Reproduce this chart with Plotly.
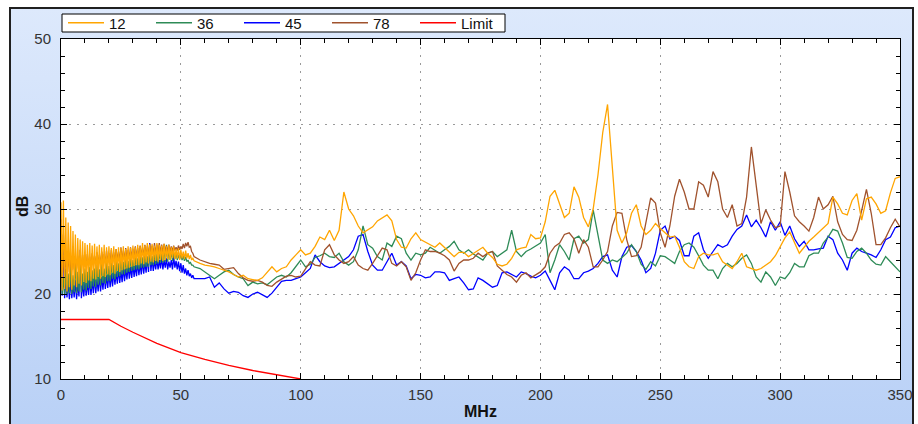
import base64
import plotly.graph_objects as go

# ---------------- data ----------------
freq_fine = [i * 0.5 for i in range(112)]   # 0 .. 55.5 MHz, 0.5 MHz step
freq_sparse = list(range(58, 351, 2))       # 58 .. 350 MHz, 2 MHz step

s12_fine = [30.8, 20.4, 31.0, 20.6, 29.0, 20.3, 28.4, 20.8, 28.0, 20.5,
            27.4, 21.0, 27.0, 20.8, 26.6, 21.2, 26.4, 21.0, 26.2, 21.4,
            26.0, 21.3, 25.8, 21.6, 26.0, 21.5, 25.7, 21.8, 25.9, 21.7,
            25.6, 22.0, 25.8, 21.8, 25.5, 22.1, 25.8, 22.0, 25.5, 22.3,
            25.6, 22.2, 25.4, 22.5, 25.6, 22.4, 25.3, 22.7, 25.5, 22.6,
            25.4, 22.8, 25.6, 22.9, 25.3, 23.0, 25.6, 23.1, 25.4, 23.2,
            25.7, 23.3, 25.5, 23.4, 25.8, 23.4, 25.6, 23.6, 26.0, 23.5,
            25.7, 23.7, 26.0, 23.6, 25.8, 23.8, 25.9, 23.7, 25.7, 23.9,
            26.0, 23.8, 25.8, 24.0, 25.7, 23.9, 25.9, 24.0, 25.6, 24.1,
            25.8, 24.0, 25.5, 24.2, 25.6, 24.1, 25.3, 24.2, 25.4, 24.0,
            25.2, 24.2, 25.0, 24.1, 25.1, 24.2, 24.8, 24.1, 24.6, 24.0,
            24.2, 23.9]
s12_sparse = [23.6, 23.4, 23.3, 23.2, 23.0, 22.8, 22.6, 22.3, 22.0, 22.2,
              21.8, 21.7, 21.6, 21.9, 22.5, 23.2, 22.6, 23.0, 23.2, 24.0,
              24.6, 25.2, 24.6, 24.8, 25.6, 26.7, 26.4, 27.5, 26.3, 27.5,
              32.0, 30.0, 29.2, 28.0, 27.2, 27.5, 27.9, 28.6, 29.0, 29.3,
              28.6, 26.4, 25.5, 25.4, 26.5, 27.2, 26.4, 26.1, 25.8, 25.5,
              26.0, 25.5, 25.0, 24.4, 24.9, 24.9, 24.4, 24.8, 25.2, 25.5,
              24.8, 24.3, 23.5, 23.3, 23.5, 24.2, 25.2, 25.4, 25.5, 27.0,
              26.5, 26.6, 28.5, 31.5, 32.2, 30.5, 29.0, 29.5, 32.6, 31.4,
              29.0, 27.9, 30.0, 34.0, 39.0, 42.3, 34.5, 27.5, 26.0, 27.2,
              29.5, 30.5, 28.0, 27.0, 27.5, 28.3, 27.7, 27.2, 26.7, 26.8,
              25.5, 23.8, 23.2, 23.0, 24.4, 24.8, 24.6, 24.6, 24.8, 23.8,
              23.4, 23.0, 23.8, 24.8, 23.2, 23.0, 22.8, 23.0, 23.4, 23.8,
              24.5, 25.5, 26.6, 27.3, 26.0, 24.8, 25.5, 26.2, 26.7, 27.2,
              27.8, 28.3, 31.4, 30.6, 29.5, 29.3, 31.0, 31.8, 28.7, 31.2,
              31.4, 30.6, 29.5, 29.8, 31.9, 33.6, 33.8]

s36_fine = [26.0, 20.0, 22.0, 19.9, 23.0, 20.0, 22.4, 20.1, 23.5, 20.0,
            22.2, 20.2, 24.0, 20.1, 22.6, 20.3, 24.5, 20.2, 22.4, 20.5,
            23.0, 20.4, 22.6, 20.7, 23.2, 20.6, 22.8, 20.9, 23.0, 20.8,
            23.4, 21.1, 22.9, 21.0, 23.6, 21.3, 23.0, 21.2, 23.8, 21.5,
            23.3, 21.5, 23.8, 21.8, 23.4, 21.7, 24.0, 22.0, 23.6, 22.1,
            24.1, 22.3, 23.8, 22.3, 24.2, 22.5, 23.9, 22.6, 24.3, 22.7,
            24.0, 22.8, 24.4, 22.9, 24.2, 22.9, 24.5, 23.1, 24.3, 23.1,
            24.6, 23.2, 24.4, 23.2, 24.8, 23.4, 24.5, 23.4, 24.9, 23.5,
            24.7, 23.6, 25.0, 23.7, 24.8, 23.7, 25.4, 23.8, 25.8, 23.8,
            25.2, 24.0, 25.0, 23.9, 24.8, 24.1, 24.9, 24.0, 24.6, 24.1,
            24.7, 24.0, 24.5, 23.9, 24.4, 23.8, 24.0, 23.6, 23.7, 23.4,
            23.4, 23.2]
s36_sparse = [23.0, 22.6, 22.2, 21.8, 22.2, 22.6, 22.8, 22.3, 22.0, 21.8,
              21.0, 21.4, 21.2, 21.3, 21.1, 21.5, 22.0, 22.2, 22.0, 22.5,
              23.2, 24.0, 23.2, 23.5, 24.3, 24.5, 24.8, 24.4, 24.3, 24.8,
              23.8, 23.4, 23.8, 25.2, 28.0, 25.8, 25.4, 24.4, 24.0, 26.0,
              25.6, 26.8, 26.5, 24.8, 24.0, 24.8, 24.6, 24.8, 25.5, 25.1,
              24.8, 25.2, 25.6, 26.2, 25.2, 24.8, 25.2, 24.7, 24.4, 24.0,
              24.8, 25.0, 24.4, 24.8, 25.2, 27.5, 25.0, 24.4, 25.0, 25.3,
              25.6, 26.0, 27.0, 22.5, 24.0, 25.8, 25.0, 24.0, 26.5, 26.8,
              26.0, 26.4, 29.9, 27.0, 24.0, 23.6, 24.0, 23.8, 24.3, 24.8,
              25.8, 25.0, 23.5, 22.9, 23.8, 23.3, 24.5, 24.4, 24.0, 23.6,
              25.0, 25.8, 26.0, 25.5, 24.5, 23.4, 22.8, 22.8, 21.8, 23.0,
              23.6, 23.2, 23.6, 24.2, 24.6, 23.6, 22.0, 21.4, 22.6, 22.0,
              21.0, 22.0, 21.8, 22.5, 23.6, 23.2, 23.2, 24.5, 24.8, 24.8,
              26.0, 26.7, 27.6, 27.4, 26.0, 24.3, 24.2, 25.0, 25.4, 24.8,
              24.0, 23.5, 23.4, 24.4, 23.8, 23.2, 22.6]

s45_fine = [28.8, 19.8, 27.0, 19.5, 22.0, 19.6, 21.5, 19.4, 21.8, 19.5,
            21.2, 19.6, 21.6, 19.4, 21.4, 19.7, 25.2, 19.5, 21.3, 19.7,
            21.5, 19.8, 21.4, 19.9, 21.8, 19.9, 21.6, 20.1, 22.0, 20.1,
            21.8, 20.3, 22.2, 20.3, 22.0, 20.5, 22.4, 20.6, 22.2, 20.7,
            22.6, 20.8, 22.4, 20.9, 22.8, 21.1, 22.6, 21.2, 23.0, 21.3,
            22.8, 21.4, 23.2, 21.5, 23.0, 21.7, 23.4, 21.8, 23.2, 21.9,
            23.6, 22.0, 23.4, 22.1, 23.8, 22.2, 23.6, 22.3, 24.0, 22.4,
            23.8, 22.5, 24.4, 22.6, 26.0, 22.7, 24.2, 22.7, 24.0, 22.9,
            24.2, 22.9, 24.0, 23.0, 24.3, 22.9, 24.0, 23.1, 24.2, 22.9,
            23.8, 23.1, 24.0, 22.9, 24.4, 23.1, 23.9, 22.9, 23.8, 22.7,
            23.6, 22.5, 23.4, 22.4, 23.0, 22.2, 22.8, 22.1, 22.4, 21.9,
            22.2, 21.8]
s45_sparse = [21.8, 21.8, 22.0, 20.8, 21.3, 20.6, 20.1, 20.3, 20.2, 19.8,
              19.6, 20.0, 20.2, 19.9, 19.6, 20.1, 20.8, 21.5, 21.6, 21.6,
              21.8, 22.0, 22.5, 23.0, 24.6, 23.8, 23.3, 23.1, 23.2, 23.6,
              23.9, 24.4, 25.2, 26.8, 27.0, 25.0, 23.4, 22.8, 22.8, 23.8,
              24.8, 23.4, 23.8, 23.3, 21.8, 22.3, 22.2, 21.9, 22.0, 22.6,
              22.6, 22.5, 21.6, 21.8, 22.0, 21.3, 20.5, 20.6, 21.9, 21.6,
              21.2, 20.8, 21.0, 22.5, 22.6, 22.3, 22.0, 22.6, 22.4, 22.1,
              21.9, 22.2, 22.7, 21.6, 20.5, 22.5, 23.2, 22.8, 21.8, 21.8,
              22.5, 22.7, 23.0, 23.6, 24.4, 24.6, 22.8, 22.0, 24.4, 25.5,
              25.7, 25.0, 24.0, 22.5, 23.0, 24.8, 27.5, 28.0, 26.5, 26.8,
              26.3, 24.5, 24.5, 26.8, 27.2, 25.2, 24.2, 25.0, 25.8, 25.5,
              25.8, 26.8, 27.6, 28.0, 29.3, 27.9, 28.7, 27.8, 26.7, 28.5,
              27.5, 28.5, 26.9, 28.0, 26.5, 25.6, 26.2, 25.2, 25.2, 25.3,
              25.4, 26.8, 26.4, 24.8, 24.0, 22.8, 24.8, 25.4, 25.0, 24.8,
              24.6, 24.3, 25.2, 26.4, 26.7, 27.8, 28.0]

s78_fine = [25.0, 22.0, 24.6, 22.3, 24.2, 22.5, 24.4, 22.6, 24.0, 22.8,
            24.3, 22.9, 24.1, 23.0, 24.5, 23.0, 24.2, 23.1, 24.6, 23.2,
            24.3, 23.2, 24.7, 23.3, 24.4, 23.3, 24.8, 23.4, 24.5, 23.4,
            24.9, 23.5, 24.6, 23.5, 25.0, 23.6, 24.7, 23.6, 25.1, 23.7,
            24.8, 23.7, 25.2, 23.8, 24.9, 23.8, 25.3, 23.9, 25.0, 23.9,
            25.5, 24.0, 25.1, 24.0, 25.4, 24.1, 25.2, 24.1, 25.5, 24.2,
            25.3, 24.2, 25.6, 24.3, 25.4, 24.3, 25.7, 24.4, 25.5, 24.4,
            25.8, 24.5, 25.6, 24.5, 25.9, 24.6, 25.7, 24.6, 26.0, 24.7,
            25.8, 24.7, 26.0, 24.8, 25.8, 24.8, 25.9, 24.9, 25.7, 24.9,
            25.8, 25.0, 25.6, 25.0, 25.7, 25.1, 25.5, 25.1, 25.7, 25.2,
            25.6, 25.3, 25.9, 25.4, 26.0, 25.6, 26.1, 25.5, 25.6, 25.0,
            24.8, 24.4]
s78_sparse = [24.0, 23.8, 23.6, 23.5, 23.4, 22.9, 23.0, 23.1, 22.4, 21.9,
              21.6, 21.5, 21.6, 21.4, 21.0, 20.9, 21.4, 21.8, 22.1, 22.2,
              22.0, 22.1, 23.0, 23.8, 23.4, 23.3, 25.2, 25.8, 24.6, 24.0,
              23.6, 23.8, 24.4, 23.4, 23.0, 22.8, 23.6, 24.5, 25.4, 25.2,
              23.6, 23.3, 23.8, 23.2, 21.6, 22.5, 24.0, 25.2, 25.0, 25.0,
              24.8, 24.5, 24.0, 22.7, 23.6, 24.0, 24.0, 24.2, 24.8, 24.4,
              24.8, 25.0, 23.3, 22.8, 22.3, 22.0, 21.4, 22.2, 22.5, 21.9,
              22.2, 22.6, 23.2, 24.8, 25.6, 26.0, 27.0, 27.2, 26.5, 24.8,
              26.4, 25.5, 23.2, 23.2, 24.0, 25.0, 28.0, 29.6, 29.5, 26.4,
              24.4, 24.5, 25.5, 28.3, 31.3, 30.7, 27.2, 25.5, 28.0, 31.5,
              33.5, 32.0, 30.0, 30.0, 33.2, 32.8, 31.4, 34.4, 33.2, 30.0,
              29.0, 30.5, 28.0, 28.3, 31.4, 37.3, 33.0, 28.3, 29.9, 28.7,
              27.8, 28.0, 34.4, 32.0, 29.2, 28.5, 28.0, 27.4, 29.0, 31.4,
              30.0, 30.5, 31.5, 28.5, 27.0, 26.4, 26.3, 27.5, 29.8, 32.3,
              29.5, 25.8, 25.8, 26.6, 27.8, 28.8, 27.9]

limit_freq = [0, 20, 25, 30, 40, 50, 60, 70, 80, 90, 100]
limit_db = [17.0, 17.0, 16.2, 15.5, 14.2, 13.1, 12.3, 11.6, 11.0, 10.5, 10.0]

series_names = ["12", "36", "45", "78"]
series_colors = ["#FFA500", "#2E8B57", "#0000FF", "#A0522D"]
series_fine = [s12_fine, s36_fine, s45_fine, s78_fine]
series_sparse = [s12_sparse, s36_sparse, s45_sparse, s78_sparse]

for d, s in zip(series_fine, series_sparse):
    assert len(d) == len(freq_fine) and len(s) == len(freq_sparse)

# ---------------- figure ----------------
W, H = 918, 424
L, R, T, B = 61, 900, 39, 379   # plot area in pixels
pw, ph = R - L, B - T


def px(xp):
    return (xp - L) / pw


def py(yp):
    return (B - yp) / ph


FONT = "Liberation Sans, Arial, sans-serif"
fig = go.Figure()
freq_all = freq_fine + freq_sparse
# draw order: 45, 36, 78, then 12 on top; legend keeps 12, 36, 45, 78, Limit
draw_order = [2, 1, 3, 0]
for i in draw_order:
    fig.add_trace(go.Scatter(x=freq_all, y=series_fine[i] + series_sparse[i],
                             name=series_names[i], mode="lines", legendrank=i + 1,
                             line=dict(color=series_colors[i], width=1.3)))
fig.add_trace(go.Scatter(x=limit_freq, y=limit_db, name="Limit", mode="lines",
                         legendrank=5, line=dict(color="#FF0000", width=1.3)))

svg = ('<svg xmlns="http://www.w3.org/2000/svg" width="10" height="100" '
       'preserveAspectRatio="none"><defs><linearGradient id="g" x1="0" y1="0" '
       'x2="0" y2="1"><stop offset="0" stop-color="#dde9fc"/>'
       '<stop offset="1" stop-color="#b8d0f6"/></linearGradient></defs>'
       '<rect width="10" height="100" fill="url(#g)"/></svg>')
svg_uri = "data:image/svg+xml;base64," + base64.b64encode(svg.encode()).decode()

fx0, fx1 = px(10), px(913)
fy0, fy1 = py(440), py(8)
fig.add_layout_image(dict(source=svg_uri, xref="paper", yref="paper",
                          x=fx0, y=fy1, sizex=fx1 - fx0, sizey=fy1 - fy0,
                          sizing="stretch", xanchor="left", yanchor="top",
                          layer="below"))
# white plot area
fig.add_shape(type="rect", xref="paper", yref="paper", x0=0, x1=1, y0=0, y1=1,
              fillcolor="white", line=dict(width=0), layer="below")
# outer frame
fig.add_shape(type="rect", xref="paper", yref="paper", x0=fx0, x1=fx1, y0=fy0, y1=fy1,
              fillcolor="rgba(0,0,0,0)", line=dict(color="#202020", width=2), layer="below")
# legend box
fig.add_shape(type="rect", xref="paper", yref="paper", x0=px(62), x1=px(505),
              y0=py(32), y1=py(14), fillcolor="white",
              line=dict(color="black", width=1), layer="below")

axis_common = dict(
    showline=True, linecolor="black", linewidth=1, mirror="allticks",
    ticks="inside", ticklen=6, tickcolor="black", tickwidth=1,
    showgrid=True, gridcolor="#9a9a9a", gridwidth=1, griddash="2px,6px",
    zeroline=False, tickfont=dict(family=FONT, size=15, color="#333333"),
)

fig.update_xaxes(range=[0, 350], dtick=50, tick0=0, ticklabelstandoff=2,
                 minor=dict(dtick=10, ticks="inside", ticklen=4, tickcolor="black",
                            showgrid=False),
                 **axis_common)
fig.update_yaxes(range=[10, 50], dtick=10, tick0=10, ticklabelstandoff=6,
                 minor=dict(dtick=2, ticks="inside", ticklen=4, tickcolor="black",
                            showgrid=False),
                 **axis_common)

fig.add_annotation(text="<b>dB</b>", xref="paper", yref="paper", x=px(22), y=py(207),
                   xanchor="center", yanchor="middle",
                   showarrow=False, textangle=-90,
                   font=dict(family=FONT, size=16, color="#111"))
fig.add_annotation(text="<b>MHz</b>", xref="paper", yref="paper", x=px(480), y=py(411),
                   xanchor="center", yanchor="middle",
                   showarrow=False,
                   font=dict(family=FONT, size=16, color="#111"))

fig.update_layout(
    width=W, height=H,
    margin=dict(l=L, r=W - R, t=T, b=H - B, pad=0, autoexpand=False),
    paper_bgcolor="white", plot_bgcolor="rgba(0,0,0,0)",
    showlegend=True,
    legend=dict(orientation="h", x=px(63), y=py(23), xanchor="left", yanchor="middle",
                bgcolor="rgba(0,0,0,0)", borderwidth=0,
                itemwidth=36, entrywidth=37, entrywidthmode="pixels",
                font=dict(family=FONT, size=15, color="#111"),
                traceorder="normal", itemclick=False, tracegroupgap=0),
)

fig.write_html("out.html", config={"displayModeBar": False},
               post_script="document.body.style.margin='0';")
